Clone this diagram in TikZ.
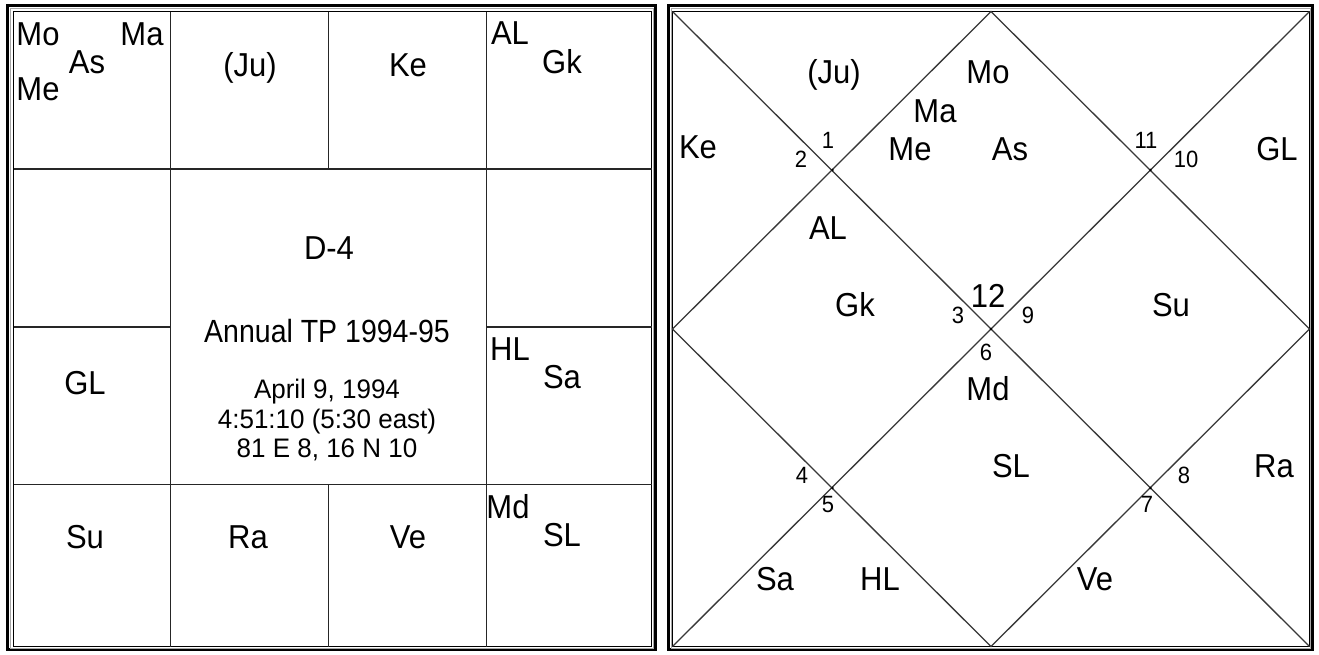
\documentclass[tikz,border=0pt]{standalone}
\usepackage{fontspec}
\setmainfont{Liberation Sans}
\begin{document}
\begin{tikzpicture}[x=1pt,y=-1pt,
  pl/.style={font=\fontsize{31}{31}\selectfont, anchor=base, inner sep=0pt, yscale=1.07},
  num/.style={font=\fontsize{22}{22}\selectfont, anchor=base, inner sep=0pt, yscale=1.07},
  info/.style={font=\fontsize{26}{26}\selectfont, anchor=base, inner sep=0pt, yscale=1.03},
  title/.style={font=\fontsize{30}{30}\selectfont, anchor=base, inner sep=0pt, xscale=0.95, yscale=1.07},
  outerframe/.style={draw=black, line width=3pt},
  midframe/.style={draw=black!35, line width=0.9pt},
  innerframe/.style={draw=black, line width=1.1pt},
  grid/.style={draw=black!85, line width=1.4pt},
  diag/.style={draw=black!78, line width=1.3pt}]
\useasboundingbox (0,0) rectangle (1319,654);
\fill[white] (0,0) rectangle (1319,654);
% ---------- left chart frame ----------
\draw[outerframe] (7.5,5.5) rectangle (655.5,649.5);
\draw[midframe] (10.5,8.5) rectangle (653.2,648);
\draw[innerframe] (13.5,11.5) rectangle (651.5,646.5);
% grid
\draw[grid] (170.5,11.5) -- (170.5,646.5);
\draw[grid] (486.5,11.5) -- (486.5,646.5);
\draw[grid] (328.5,11.5) -- (328.5,169);
\draw[grid] (328.5,484.5) -- (328.5,646.5);
\draw[grid] (13.5,169) -- (651.5,169);
\draw[grid] (13.5,484.5) -- (651.5,484.5);
\draw[grid] (13.5,327) -- (170.5,327);
\draw[grid] (486.5,327) -- (651.5,327);
% ---------- right chart frame ----------
\draw[outerframe] (668.5,5.5) rectangle (1312.5,649.5);
\draw[midframe] (671,8.5) rectangle (1310.8,648);
\draw[innerframe] (672.5,11.5) rectangle (1309.5,646.5);
\coordinate (TL) at (672.5,11.5);
\coordinate (TR) at (1309.5,11.5);
\coordinate (BL) at (672.5,646.5);
\coordinate (BR) at (1309.5,646.5);
\coordinate (T) at (991,11.5);
\coordinate (B) at (991,646.5);
\coordinate (L) at (672.5,329);
\coordinate (R) at (1309.5,329);
\draw[diag] (TL) -- (BR);
\draw[diag] (TR) -- (BL);
\draw[diag] (T) -- (R) -- (B) -- (L) -- cycle;
\foreach \p in {(832.5,170),(1150.5,170),(991,329),(832.5,488),(1150.5,488)}
  \fill[black] \p circle (1.4);
% ---------- left chart labels ----------
\node[pl] (lMo) at (38,45) {Mo};
\node[pl] (lMa) at (142,45) {Ma};
\node[pl] (lAs) at (87,73) {As};
\node[pl] (lMe) at (38,100) {Me};
\node[pl] (lJu) at (250,76) {(Ju)};
\node[pl] (lKe) at (408,76) {Ke};
\node[pl] (lAL) at (510,44) {AL};
\node[pl] (lGk) at (562,73) {Gk};
\node[pl] (lD4) at (329,259) {D-4};
\node[title] (lTitle) at (327,342) {Annual TP 1994-95};
\node[info] (lDate) at (327,398) {April 9, 1994};
\node[info] (lTime) at (327,428) {4:51:10 (5:30 east)};
\node[info] (lPlace) at (327,457) {81 E 8, 16 N 10};
\node[pl] (lGL) at (85,394) {GL};
\node[pl] (lHL) at (510,360) {HL};
\node[pl] (lSa) at (562,388) {Sa};
\node[pl] (lSu) at (85,548) {Su};
\node[pl] (lRa) at (248,548) {Ra};
\node[pl] (lVe) at (408,548) {Ve};
\node[pl] (lMd) at (508,518) {Md};
\node[pl] (lSL) at (562,546) {SL};
% ---------- right chart labels ----------
\node[pl] (rJu) at (834,83) {(Ju)};
\node[pl] (rKe) at (698,158) {Ke};
\node[num] (r2) at (801,167) {2};
\node[num] (r1) at (828,148) {1};
\node[pl] (rMo) at (988,83) {Mo};
\node[pl] (rMa) at (935,122) {Ma};
\node[pl] (rMe) at (910,160) {Me};
\node[pl] (rAs) at (1010,160) {As};
\node[num] (r11) at (1146,148) {11};
\node[num] (r10) at (1186,167) {10};
\node[pl] (rGL) at (1277,160) {GL};
\node[pl] (rAL) at (828,239) {AL};
\node[pl] (rGk) at (855,316) {Gk};
\node[pl] (r12) at (988,307) {12};
\node[num] (r3) at (958,323) {3};
\node[num] (r9) at (1028,323) {9};
\node[pl] (rSu) at (1171,316) {Su};
\node[num] (r6) at (986,360) {6};
\node[pl] (rMd) at (988,400) {Md};
\node[pl] (rSL) at (1011,477) {SL};
\node[num] (r4) at (802,483) {4};
\node[num] (r5) at (828,512) {5};
\node[pl] (rSa) at (775,590) {Sa};
\node[pl] (rHL) at (880,590) {HL};
\node[pl] (rVe) at (1095,590) {Ve};
\node[num] (r7) at (1147,512) {7};
\node[num] (r8) at (1184,483) {8};
\node[pl] (rRa) at (1274,477) {Ra};
\end{tikzpicture}
\end{document}
